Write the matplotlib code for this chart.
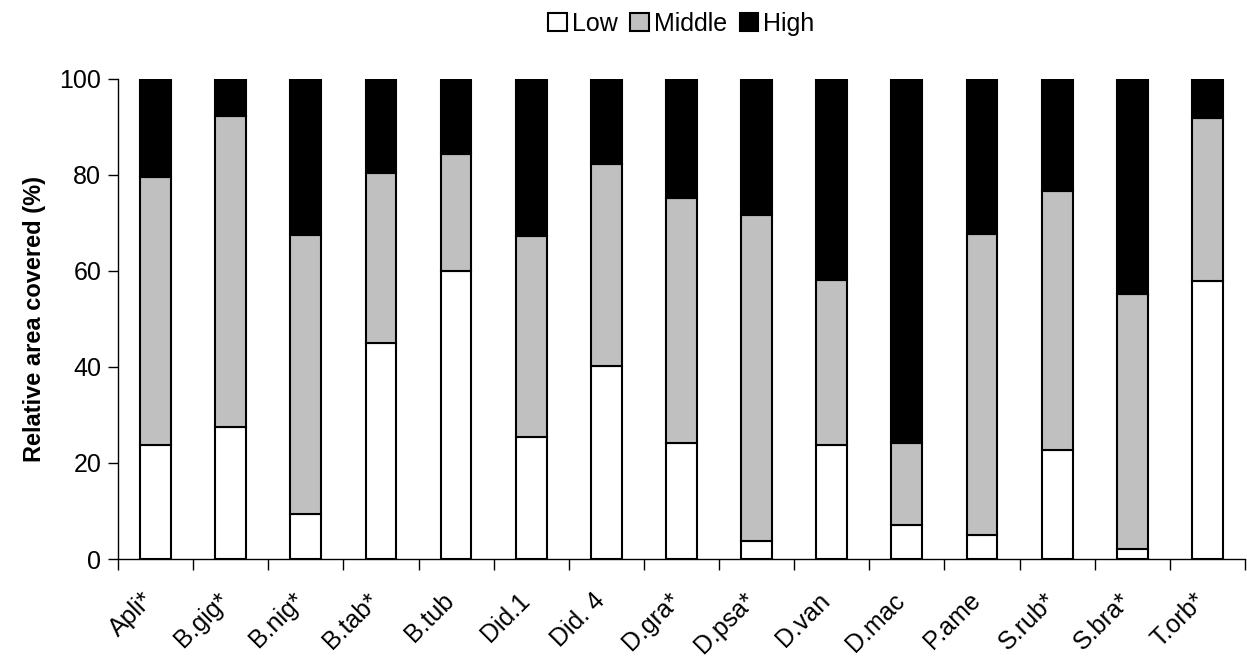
import numpy as np
import matplotlib
matplotlib.use('Agg')
import matplotlib.pyplot as plt
import matplotlib.transforms as mtransforms

plt.rcParams['font.family'] = ['Liberation Sans', 'DejaVu Sans']

species = ['Apli*', 'B.gig*', 'B.nig*', 'B.tab*', 'B.tub', 'Did.1', 'Did. 4',
           'D.gra*', 'D.psa*', 'D.van', 'D.mac', 'P.ame', 'S.rub*', 'S.bra*', 'T.orb*']
low = [23.7, 27.4, 9.3, 45.0, 59.9, 25.5, 40.2, 24.2, 3.7, 23.7, 7.0, 5.0, 22.7, 2.0, 57.8]
low_mid = [79.6, 92.3, 67.5, 80.3, 84.3, 67.2, 82.3, 75.1, 71.5, 58.1, 24.2, 67.6, 76.5, 55.2, 91.8]

low = np.array(low)
middle = np.array(low_mid) - low
high = 100 - np.array(low_mid)

fig = plt.figure(figsize=(12.47, 6.57), dpi=100)
ax = fig.add_axes([0.0946, 0.149, 0.9038, 0.7315])

x = np.arange(len(species))
w = 0.41
kw = dict(width=w, edgecolor='black', linewidth=1.5)
b1 = ax.bar(x, low, color='white', label='Low', **kw)
b2 = ax.bar(x, middle, bottom=low, color='#c0c0c0', label='Middle', **kw)
b3 = ax.bar(x, high, bottom=low + middle, color='black', label='High', **kw)

ax.set_xlim(-0.5, len(species) - 0.5)
ax.set_ylim(0, 100)
ax.set_yticks([0, 20, 40, 60, 80, 100])
ax.tick_params(axis='y', labelsize=18, length=7, direction='out', width=1, pad=5)

# labels under the bars, tick marks between categories
ax.set_xticks(x)
ax.set_xticklabels(species, rotation=45, ha='right', rotation_mode='anchor', fontsize=18)
ax.tick_params(axis='x', which='major', length=0, pad=21)
shift = mtransforms.ScaledTranslation(-0.14, 0, fig.dpi_scale_trans)
for lbl in ax.get_xticklabels():
    lbl.set_transform(lbl.get_transform() + shift)
ax.set_xticks(np.arange(-0.5, len(species)), minor=True)
ax.tick_params(axis='x', which='minor', length=8, width=1, direction='out')

ax.spines['top'].set_visible(False)
ax.spines['right'].set_visible(False)
ax.spines['left'].set_linewidth(1)
ax.spines['bottom'].set_linewidth(1)

ax.set_ylabel('Relative area covered (%)', fontsize=17, fontweight='bold', labelpad=10)

ax.legend(handles=[b1, b2, b3], loc='center', bbox_to_anchor=(0.5, 1.114),
          ncol=3, frameon=False, fontsize=18, handlelength=0.75, handleheight=0.75,
          handletextpad=0.2, columnspacing=0.5)

fig.savefig('out.png', dpi=100)
